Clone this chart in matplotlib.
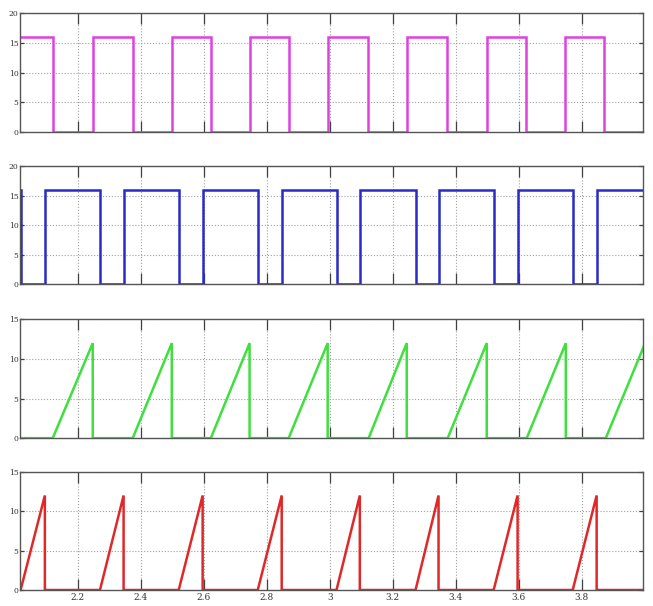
import matplotlib
matplotlib.use("Agg")
import matplotlib.pyplot as plt

# switching instants (time axis)
mag_fall = [2.120, 2.374, 2.622, 2.869, 3.120, 3.371, 3.622, 3.870]
mag_rise = [2.247, 2.498, 2.745, 2.993, 3.244, 3.498, 3.746]
mag_high = 16

blue_fall = [2.020, 2.270, 2.520, 2.771, 3.021, 3.272, 3.520, 3.771]
blue_rise = [2.095, 2.345, 2.596, 2.847, 3.095, 3.345, 3.596, 3.847]
blue_high = 16

green_start = [2.120, 2.374, 2.622, 2.869, 3.123, 3.374, 3.625, 3.876]
green_peak_t = [2.247, 2.498, 2.745, 2.993, 3.244, 3.498, 3.749, 4.001]
green_peak = 12

red_start = [2.018, 2.270, 2.520, 2.771, 3.021, 3.272, 3.520, 3.771]
red_peak_t = [2.095, 2.345, 2.596, 2.847, 3.095, 3.345, 3.596, 3.847]
red_peak = 12

x_ticks = [2.2, 2.4, 2.6, 2.8, 3.0, 3.2, 3.4, 3.6, 3.8]
x_labels = ["2.2", "2.4", "2.6", "2.8", "3", "3.2", "3.4", "3.6", "3.8"]
t0, t1 = 2.0, 4.0


def square(falls, rises, high, start_high=True):
    edges = sorted([(t, 0) for t in falls] + [(t, high) for t in rises])
    xs = [t0]
    ys = [high if start_high else 0]
    for t, v in edges:
        xs += [t, t]
        ys += [ys[-1], v]
    xs.append(t1)
    ys.append(ys[-1])
    return xs, ys


def saw(starts, peaks_t, peak):
    xs = [t0]
    ys = [0]
    for s, p in zip(starts, peaks_t):
        xs += [s, p, p]
        ys += [0, peak, 0]
    xs.append(t1)
    ys.append(0)
    return xs, ys


fig = plt.figure(figsize=(6.53, 6.06), dpi=100)
fig.patch.set_facecolor("white")

boxes = [
    (0.782, 0.196),
    (0.531, 0.195),
    (0.277, 0.196),
    (0.0264, 0.195),
]
left, width = 0.0306, 0.954

series = [
    (square(mag_fall, mag_rise, mag_high, True), "#e040e0", (0, 20), [0, 5, 10, 15, 20]),
    (square(blue_fall, blue_rise, blue_high, True), "#2a2ac8", (0, 20), [0, 5, 10, 15, 20]),
    (saw(green_start, green_peak_t, green_peak), "#3ee03e", (0, 15), [0, 5, 10, 15]),
    (saw(red_start, red_peak_t, red_peak), "#e02828", (0, 15), [0, 5, 10, 15]),
]

for i, ((xs, ys), color, ylim, yt) in enumerate(series):
    bottom, height = boxes[i]
    ax = fig.add_axes([left, bottom, width, height])
    ax.plot(xs, ys, color=color, lw=1.8, solid_joinstyle="miter")
    ax.set_xlim(2.016, 3.994)
    ax.set_ylim(*ylim)
    ax.set_xticks(x_ticks)
    ax.set_yticks(yt)
    ax.set_yticklabels([str(v) for v in yt], fontsize=5.5, family="DejaVu Serif",
                       color="#333333")
    if i == 3:
        ax.set_xticklabels(x_labels, fontsize=6.5, family="DejaVu Serif", color="#333333")
    else:
        ax.set_xticklabels([])
    ax.tick_params(axis="x", direction="in", length=8, width=0.9, color="#404040",
                   top=True, bottom=True, pad=2)
    ax.tick_params(axis="y", direction="in", length=3, width=0.9, color="#404040",
                   left=True, right=True, pad=1)
    ax.grid(True, linestyle=":", color="#a0a0a0", lw=0.8)
    for sp in ax.spines.values():
        sp.set_color("#555555")
        sp.set_linewidth(1.0)

fig.savefig("out.png", dpi=100, facecolor="white")
